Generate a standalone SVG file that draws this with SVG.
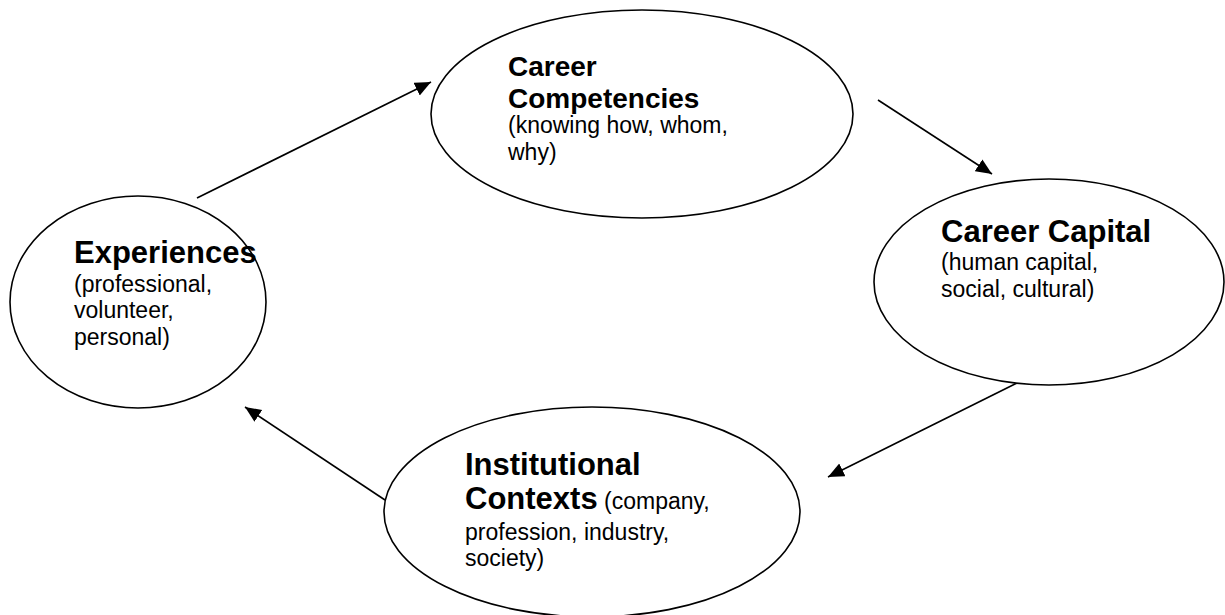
<svg xmlns="http://www.w3.org/2000/svg" width="1225" height="615" viewBox="0 0 1225 615">
<style>
.node ellipse{fill:#fff;stroke:#000;stroke-width:1.6}
.t{font-family:"Liberation Sans",Arial,sans-serif;fill:#000}
.b{font-weight:bold;font-size:31px}
.b2{font-weight:bold;font-size:28px}
.r{font-size:23px}
.conn line{stroke:#000;stroke-width:1.6;marker-end:url(#ah)}
</style>
<defs>
<marker id="ah" markerUnits="userSpaceOnUse" markerWidth="17" markerHeight="15" refX="16" refY="7" orient="auto">
<path d="M0,0 L16,7 L0,14 z" fill="#000"/>
</marker>
</defs>
<rect width="1225" height="615" fill="#fff"/>
<g id="connectors" class="conn">
<line x1="197" y1="198" x2="431" y2="82"/>
<line x1="878" y1="100" x2="992" y2="174"/>
<line x1="1017" y1="383" x2="828" y2="477"/>
<line x1="385" y1="500" x2="245" y2="407"/>
</g>
<g id="career-competencies" class="node">
<ellipse cx="642" cy="114" rx="211" ry="104"/>
<text class="t b2" x="508" y="76">Career</text>
<text class="t b2" x="508" y="108">Competencies</text>
<text class="t r" x="508" y="133">(knowing how, whom,</text>
<text class="t r" x="508" y="160">why)</text>
</g>
<g id="career-capital" class="node">
<ellipse cx="1049" cy="282" rx="175" ry="103"/>
<text class="t b" x="941" y="242">Career Capital</text>
<text class="t r" x="941" y="270">(human capital,</text>
<text class="t r" x="941" y="297">social, cultural)</text>
</g>
<g id="experiences" class="node">
<ellipse cx="138" cy="302" rx="128" ry="106"/>
<text class="t b" x="74" y="263">Experiences</text>
<text class="t r" x="74" y="292">(professional,</text>
<text class="t r" x="74" y="318">volunteer,</text>
<text class="t r" x="74" y="345">personal)</text>
</g>
<g id="institutional-contexts" class="node">
<ellipse cx="592" cy="512" rx="208" ry="105"/>
<text class="t b" x="465" y="475">Institutional</text>
<text class="t" x="465" y="509"><tspan class="b">Contexts</tspan><tspan class="r"> (company,</tspan></text>
<text class="t r" x="465" y="540">profession, industry,</text>
<text class="t r" x="465" y="566">society)</text>
</g>
</svg>
